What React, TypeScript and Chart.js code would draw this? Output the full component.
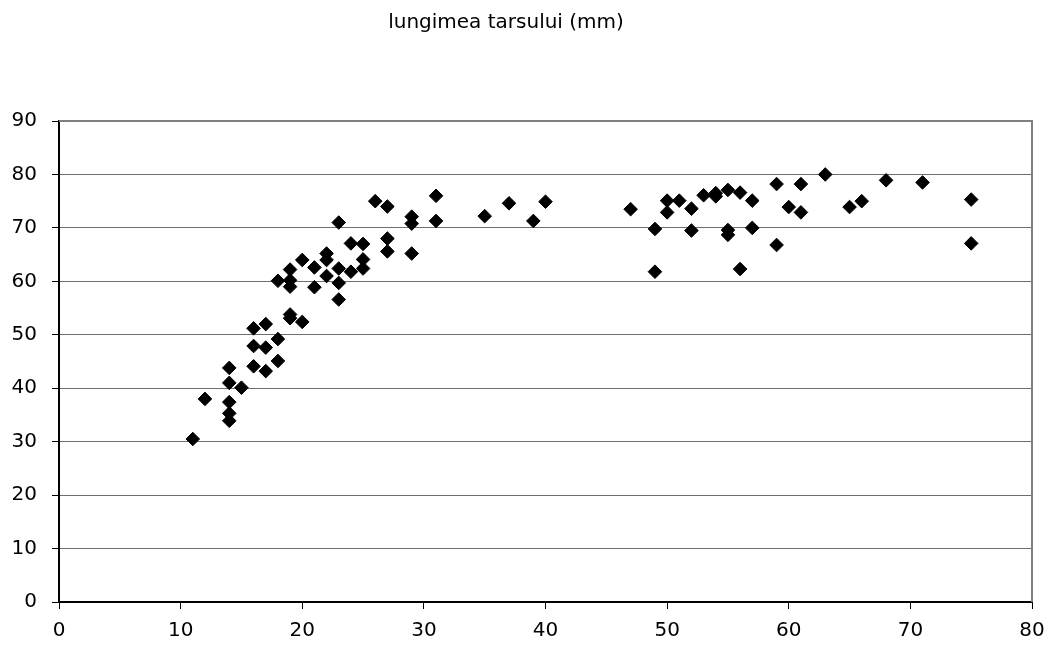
import React, { useEffect, useRef } from "react";
import { Chart, registerables } from "chart.js";

Chart.register(...registerables);

const chartTitle = "lungimea tarsului (mm)";

// x values (axis 0–80) and tarsus length in mm, paired by index
const xValues = [
  11, 12, 14, 14, 14, 14, 14, 15, 16, 16, 16, 17, 17, 17, 18, 18, 18, 19, 19, 19,
  19, 19, 20, 20, 21, 21, 22, 22, 22, 23, 23, 23, 23, 24, 24, 25, 25, 25, 26, 27,
  27, 27, 29, 29, 29, 31, 31, 35, 37, 39, 40,
  47, 49, 49, 50, 50, 51, 52, 52, 53, 54, 54, 55, 55, 55, 56, 56, 57, 57, 59, 59,
  60, 61, 61, 63, 65, 66, 68, 71, 75, 75,
];

const tarsusLength = [
  30.5, 38, 43.8, 41, 37.4, 35.3, 33.9, 40.1, 51.2, 47.9, 44.1, 52, 47.6, 43.2, 60.1, 49.2, 45.1, 62.2, 60.2, 59,
  53.8, 53.1, 64, 52.4, 62.6, 58.9, 65.2, 64, 61, 71, 62.4, 59.7, 56.6, 67.1, 61.8, 67, 64.1, 62.4, 75, 74,
  68, 65.6, 72.1, 70.8, 65.2, 76, 71.3, 72.2, 74.6, 71.3, 74.9,
  73.5, 69.8, 61.8, 75.1, 72.9, 75.1, 73.6, 69.5, 76.1, 76.5, 75.9, 77.1, 69.6, 68.7, 76.6, 62.3, 75.1, 70, 78.2, 66.8,
  73.9, 78.2, 72.9, 80, 73.9, 75, 78.9, 78.5, 75.3, 67.1,
];

const xTicks = { min: 0, max: 80, step: 10 };
const yTicks = { min: 0, max: 90, step: 10 };

const FONT = "'DejaVu Sans', 'Liberation Sans', Arial, sans-serif";

// Gray frame on the top and right edges of the plot area, plus the heading text
const framePlugin = {
  id: "frameAndHeading",
  beforeDatasetsDraw(chart: any) {
    const { ctx, chartArea } = chart;
    ctx.save();
    ctx.strokeStyle = "#808080";
    ctx.lineWidth = 2;
    ctx.beginPath();
    ctx.moveTo(chartArea.left, chartArea.top);
    ctx.lineTo(chartArea.right, chartArea.top);
    ctx.lineTo(chartArea.right, chartArea.bottom);
    ctx.stroke();
    ctx.restore();
  },
  afterDraw(chart: any) {
    const { ctx } = chart;
    ctx.save();
    ctx.fillStyle = "#000";
    ctx.font = `20px ${FONT}`;
    ctx.textAlign = "center";
    ctx.textBaseline = "alphabetic";
    ctx.fillText(chartTitle, 506, 28);
    ctx.restore();
  },
};

export default function App() {
  const canvasRef = useRef<HTMLCanvasElement | null>(null);

  useEffect(() => {
    if (!canvasRef.current) return;
    const points = xValues.map((x, i) => ({ x, y: tarsusLength[i] }));
    const chart = new Chart(canvasRef.current, {
      type: "scatter",
      data: {
        datasets: [
          {
            label: chartTitle,
            data: points,
            pointStyle: "rectRot",
            pointRadius: 6.8,
            pointHoverRadius: 6.8,
            backgroundColor: "#000",
            borderColor: "#000",
            borderWidth: 1,
          },
        ],
      },
      options: {
        responsive: false,
        animation: false,
        layout: { padding: { left: 0, right: 18, top: 121, bottom: 0 } },
        plugins: {
          legend: { display: false },
          title: { display: false },
          tooltip: { enabled: false },
        },
        scales: {
          x: {
            type: "linear",
            min: xTicks.min,
            max: xTicks.max,
            afterFit: (scale: any) => {
              scale.height = 44;
              scale.paddingLeft = 0;
              scale.paddingRight = 0;
            },
            ticks: {
              stepSize: xTicks.step,
              color: "#000",
              font: { family: FONT, size: 20 },
              padding: 10,
              maxRotation: 0,
            },
            grid: {
              display: true,
              drawOnChartArea: false,
              drawTicks: true,
              tickLength: 7,
              tickColor: "#000",
              tickWidth: 1,
            },
            border: { display: true, color: "#000", width: 2 },
          },
          y: {
            type: "linear",
            min: yTicks.min,
            max: yTicks.max,
            afterFit: (scale: any) => {
              scale.width = 59;
              scale.paddingTop = 0;
              scale.paddingBottom = 0;
            },
            ticks: {
              stepSize: yTicks.step,
              color: "#000",
              font: { family: FONT, size: 20 },
              padding: 15,
            },
            grid: {
              display: true,
              drawOnChartArea: true,
              color: "#6e6e6e",
              lineWidth: 1,
              drawTicks: true,
              tickLength: 7,
              tickColor: "#000",
              tickWidth: 1,
            },
            border: { display: true, color: "#000", width: 2 },
          },
        },
      },
      plugins: [framePlugin],
    });
    return () => chart.destroy();
  }, []);

  return (
    <div style={{ position: "fixed", left: 0, top: 0, width: 1050, height: 646, background: "#fff" }}>
      <canvas ref={canvasRef} width={1050} height={646} />
    </div>
  );
}
